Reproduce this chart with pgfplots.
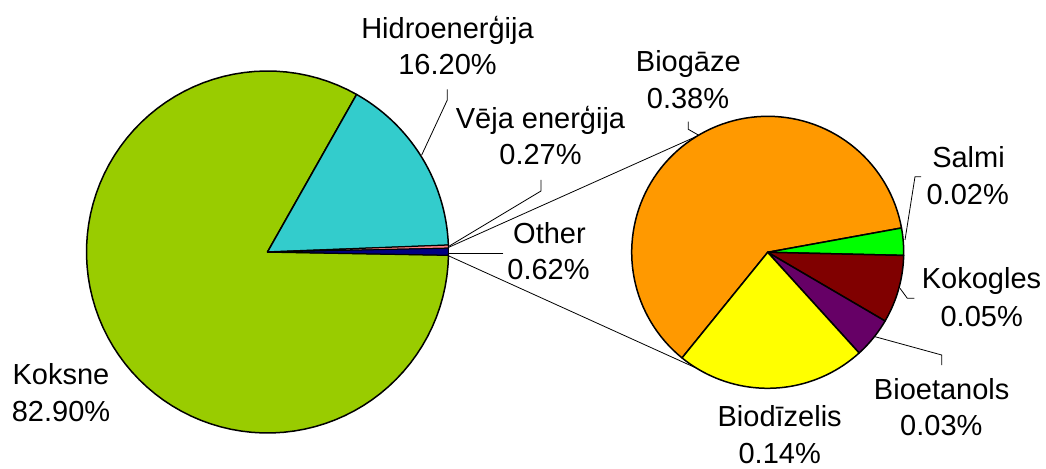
\documentclass[border=0pt]{standalone}
\usepackage{fontspec}
\setmainfont{Liberation Sans}
\usepackage{pgfplots}
\usepackage{pgfplotstable}
\pgfplotsset{compat=1.18}
\definecolor{cKok}{HTML}{99CC00}
\definecolor{cHid}{HTML}{33CCCC}
\definecolor{cVej}{HTML}{FF8080}
\definecolor{cOth}{HTML}{000080}
\definecolor{cBga}{HTML}{FF9900}
\definecolor{cSal}{HTML}{00FF00}
\definecolor{cKkg}{HTML}{800000}
\definecolor{cBet}{HTML}{660066}
\definecolor{cBdz}{HTML}{FFFF00}

% left pie: Koksne, Hidroenergija, Veja energija, Other
\pgfplotstableread{
value
82.90
16.20
0.27
0.62
}\lefttab
% right pie: Biogaze, Salmi, Kokogles, Bioetanols, Biodizelis
\pgfplotstableread{
value
0.38
0.02
0.05
0.03
0.14
}\righttab

\begin{document}%
\begin{tikzpicture}[font=\fontsize{29bp}{35bp}\selectfont]
\pgfplotstablegetelem{0}{value}\of\lefttab\let\LvK\pgfplotsretval
\pgfplotstablegetelem{1}{value}\of\lefttab\let\LvH\pgfplotsretval
\pgfplotstablegetelem{2}{value}\of\lefttab\let\LvV\pgfplotsretval
\pgfplotstablegetelem{3}{value}\of\lefttab\let\LvO\pgfplotsretval
\pgfplotstablegetelem{0}{value}\of\righttab\let\RvBg\pgfplotsretval
\pgfplotstablegetelem{1}{value}\of\righttab\let\RvSa\pgfplotsretval
\pgfplotstablegetelem{2}{value}\of\righttab\let\RvKk\pgfplotsretval
\pgfplotstablegetelem{3}{value}\of\righttab\let\RvBe\pgfplotsretval
\pgfplotstablegetelem{4}{value}\of\righttab\let\RvBd\pgfplotsretval
\pgfmathsetmacro\Ltot{\LvK+\LvH+\LvV+\LvO}
\pgfmathsetmacro\sO{\LvO/\Ltot*360}
\pgfmathsetmacro\sV{\LvV/\Ltot*360}
\pgfmathsetmacro\sH{\LvH/\Ltot*360}
\pgfmathsetmacro\aOa{0.1-\sO/2}
\pgfmathsetmacro\aOb{0.1+\sO/2}
\pgfmathsetmacro\aVb{\aOb+\sV}
\pgfmathsetmacro\aHb{\aVb+\sH}
\pgfmathsetmacro\aKb{360+\aOa}
\pgfmathsetmacro\Rtot{\RvBg+\RvSa+\RvKk+\RvBe+\RvBd}
\pgfmathsetmacro\tSa{\RvSa/\Rtot*360}
\pgfmathsetmacro\tKk{\RvKk/\Rtot*360}
\pgfmathsetmacro\tBe{\RvBe/\Rtot*360}
\pgfmathsetmacro\tBd{\RvBd/\Rtot*360}
\pgfmathsetmacro\bSa{10.3}
\pgfmathsetmacro\bSb{\bSa-\tSa}
\pgfmathsetmacro\bKk{\bSb-\tKk}
\pgfmathsetmacro\bBe{\bKk-\tBe}
\pgfmathsetmacro\bBd{\bBe-\tBd}
\pgfmathsetmacro\bBg{\bBd+360}
\begin{axis}[
  width=1046bp, height=468bp, scale only axis,
  xmin=0, xmax=1046, ymin=0, ymax=468,
  hide axis, clip=false,
  every axis plot/.append style={draw=black, line width=1.5bp, line join=round, samples=90, variable=\t},
]
\coordinate (LL) at (axis cs:0,0);
\coordinate (UR) at (axis cs:1046,468);
% left pie
\addplot[fill=cKok, domain=\aHb:\aKb] ({267.5+181*cos(t)},{216+181*sin(t)}) -- (axis cs:267.5,216) -- cycle;
\addplot[fill=cHid, domain=\aVb:\aHb] ({267.5+181*cos(t)},{216+181*sin(t)}) -- (axis cs:267.5,216) -- cycle;
\addplot[fill=cVej, domain=\aOb:\aVb, samples=4, line width=1bp] ({267.5+181*cos(t)},{216+181*sin(t)}) -- (axis cs:267.5,216) -- cycle;
\addplot[fill=cOth, domain=\aOa:\aOb, samples=4, line width=1bp] ({267.5+181*cos(t)},{216+181*sin(t)}) -- (axis cs:267.5,216) -- cycle;
% right pie
\addplot[fill=cBga, domain=\bSa:\bBg] ({767.7+136*cos(t)},{215.7+136*sin(t)}) -- (axis cs:767.7,215.7) -- cycle;
\addplot[fill=cSal, domain=\bSb:\bSa, samples=10] ({767.7+136*cos(t)},{215.7+136*sin(t)}) -- (axis cs:767.7,215.7) -- cycle;
\addplot[fill=cKkg, domain=\bKk:\bSb, samples=20] ({767.7+136*cos(t)},{215.7+136*sin(t)}) -- (axis cs:767.7,215.7) -- cycle;
\addplot[fill=cBet, domain=\bBe:\bKk, samples=15] ({767.7+136*cos(t)},{215.7+136*sin(t)}) -- (axis cs:767.7,215.7) -- cycle;
\addplot[fill=cBdz, domain=\bBd:\bBe, samples=40] ({767.7+136*cos(t)},{215.7+136*sin(t)}) -- (axis cs:767.7,215.7) -- cycle;
% connector lines
\draw[line width=0.8bp] (axis cs:448.3,220.5) -- (axis cs:696.7,331.7);
\draw[line width=0.8bp] (axis cs:448.3,212.3) -- (axis cs:696.7,99.7);
% leader lines
\draw[line width=0.8bp] (axis cs:447.3,378.7) -- (axis cs:447.3,368) -- (axis cs:421.7,313);
\draw[line width=0.8bp] (axis cs:541,288) -- (axis cs:541,277) -- (axis cs:448.5,221.5);
\draw[line width=0.8bp] (axis cs:503.3,214.7) -- (axis cs:448.5,214.7);
\draw[line width=0.8bp] (axis cs:688.3,346.3) -- (axis cs:688.3,338.7) -- (axis cs:698.3,333);
\draw[line width=0.8bp] (axis cs:921,291.3) -- (axis cs:915,291.3) -- (axis cs:905,228);
\draw[line width=0.8bp] (axis cs:914.3,169.7) -- (axis cs:907.3,169.7) -- (axis cs:900,179.7);
\draw[line width=0.8bp] (axis cs:941.7,103) -- (axis cs:941.7,113) -- (axis cs:875,131.3);
% labels
\tikzset{lab/.style={anchor=base, inner sep=0pt}}
\node[lab] at (axis cs:447.5,429.7) {Hidroenerģija};
\node[lab] at (axis cs:447.5,393) {16.20\%};
\node[lab] at (axis cs:540.5,339.7) {Vēja enerģija};
\node[lab] at (axis cs:540.5,303) {0.27\%};
\node[lab] at (axis cs:549.5,224.7) {Other};
\node[lab] at (axis cs:548.5,188) {0.62\%};
\node[lab] at (axis cs:61,84) {Koksne};
\node[lab] at (axis cs:61,47) {82.90\%};
\node[lab] at (axis cs:688.3,396.3) {Biogāze};
\node[lab] at (axis cs:688,359.7) {0.38\%};
\node[lab] at (axis cs:968.5,300.3) {Salmi};
\node[lab] at (axis cs:967.7,263.7) {0.02\%};
\node[lab] at (axis cs:981.5,179.7) {Kokogles};
\node[lab] at (axis cs:981.7,142) {0.05\%};
\node[lab] at (axis cs:941.7,69) {Bioetanols};
\node[lab] at (axis cs:941.3,32.3) {0.03\%};
\node[lab] at (axis cs:779.7,41.3) {Biodīzelis};
\node[lab] at (axis cs:779.7,5) {0.14\%};
\end{axis}
\pgfresetboundingbox
\path[use as bounding box] (LL) rectangle (UR);
\end{tikzpicture}%
\end{document}
